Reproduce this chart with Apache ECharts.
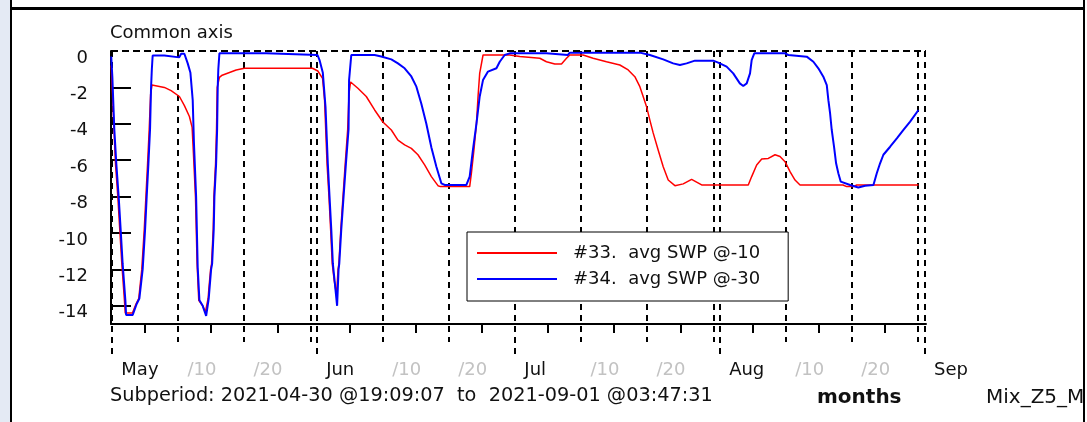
<!DOCTYPE html>
<html>
<head>
<meta charset="utf-8">
<script src="https://cdn.jsdelivr.net/npm/echarts@6/dist/echarts.min.js"></script>
<style>
html, body { margin: 0; padding: 0; background: #fff; }
#chart { width: 1087px; height: 422px; }
</style>
</head>
<body>
<div id="chart"></div>
<script>
// Soil water potential, two sensors, Apr 30 - Sep 1 2021
const periodStart = '2021-04-30 19:09:07';
const periodEnd = '2021-09-01 03:47:31';

const swp10Name = '#33.  avg SWP @-10';
const swp30Name = '#34.  avg SWP @-30';

const swp10Time = [
  '2021-04-30 20:00', '2021-05-01 04:00', '2021-05-01 11:30', '2021-05-01 20:00', '2021-05-02 03:00',
  '2021-05-02 10:30', '2021-05-02 20:00', '2021-05-02 23:00', '2021-05-04 01:00', '2021-05-04 14:00',
  '2021-05-05 00:00', '2021-05-05 11:00', '2021-05-05 20:00', '2021-05-06 02:00', '2021-05-06 08:00',
  '2021-05-06 14:00', '2021-05-06 19:00', '2021-05-07 00:00', '2021-05-08 21:00', '2021-05-09 21:30',
  '2021-05-11 03:40', '2021-05-11 21:50', '2021-05-12 16:00', '2021-05-13 01:50', '2021-05-13 06:30',
  '2021-05-13 14:00', '2021-05-13 20:00', '2021-05-14 02:00', '2021-05-14 16:00', '2021-05-15 02:00',
  '2021-05-15 12:00', '2021-05-15 14:30', '2021-05-15 21:00', '2021-05-16 00:30', '2021-05-16 06:30',
  '2021-05-16 09:00', '2021-05-16 15:00', '2021-05-16 18:30', '2021-05-16 21:00', '2021-05-17 05:00',
  '2021-05-17 15:00', '2021-05-19 17:50', '2021-05-21 00:00', '2021-05-31 07:00', '2021-06-01 02:30',
  '2021-06-01 19:40', '2021-06-02 03:00', '2021-06-02 12:00', '2021-06-02 19:00', '2021-06-03 01:00',
  '2021-06-03 07:00', '2021-06-03 14:00', '2021-06-03 22:30', '2021-06-04 04:00', '2021-06-04 07:00',
  '2021-06-04 14:00', '2021-06-04 22:00', '2021-06-05 06:00', '2021-06-05 15:00', '2021-06-05 20:00',
  '2021-06-06 01:30', '2021-06-07 04:00', '2021-06-08 10:30', '2021-06-09 16:50', '2021-06-10 22:50',
  '2021-06-12 05:30', '2021-06-13 05:30', '2021-06-14 05:50', '2021-06-15 06:10', '2021-06-16 06:10',
  '2021-06-17 06:30', '2021-06-18 07:00', '2021-06-19 07:00', '2021-06-19 16:00', '2021-06-24 02:10',
  '2021-06-24 08:30', '2021-06-24 17:50', '2021-06-25 02:40', '2021-06-25 08:30', '2021-06-25 14:30',
  '2021-06-26 02:40', '2021-06-30 03:40', '2021-07-01 16:00', '2021-07-04 16:50', '2021-07-05 17:00',
  '2021-07-06 23:20', '2021-07-07 23:40', '2021-07-08 17:50', '2021-07-09 05:50', '2021-07-11 06:10',
  '2021-07-12 18:30', '2021-07-14 19:10', '2021-07-16 19:40', '2021-07-18 02:00', '2021-07-19 02:10',
  '2021-07-19 20:20', '2021-07-20 08:20', '2021-07-20 20:40', '2021-07-21 08:40', '2021-07-21 20:40',
  '2021-07-22 14:50', '2021-07-23 09:10', '2021-07-24 03:20', '2021-07-25 03:40', '2021-07-26 09:50',
  '2021-07-27 16:20', '2021-07-28 10:30', '2021-07-29 04:50', '2021-08-05 06:10', '2021-08-05 18:30',
  '2021-08-06 12:40', '2021-08-07 07:00', '2021-08-08 07:00', '2021-08-09 07:20', '2021-08-10 01:30',
  '2021-08-10 19:40', '2021-08-11 13:50', '2021-08-12 08:00', '2021-08-13 02:10', '2021-08-19 14:20',
  '2021-08-20 04:00', '2021-08-21 04:00', '2021-08-21 16:20', '2021-08-31 00:30'
];
const swp10Value = [
  -0.8, -3.6, -6.2, -8.0, -9.8,
  -11.7, -13.7, -14.4, -14.4, -13.9,
  -13.6, -12.0, -9.8, -8.0, -6.2,
  -4.3, -2.4, -1.87, -2.0, -2.18,
  -2.5, -3.0, -3.6, -4.2, -5.6,
  -8.0, -11.7, -13.7, -14.0, -14.35,
  -13.6, -13.1, -12.0, -11.7, -9.8,
  -8.0, -6.2, -4.3, -2.0, -1.45,
  -1.33, -1.04, -0.95, -0.95, -1.1,
  -1.5, -2.7, -6.2, -8.0, -9.8,
  -11.7, -12.6, -13.4, -12.0, -11.7,
  -9.8, -8.0, -6.2, -4.3, -2.3,
  -1.7, -2.05, -2.5, -3.24, -3.9,
  -4.34, -4.9, -5.16, -5.35, -5.7,
  -6.26, -6.9, -7.4, -7.45, -7.45,
  -6.7, -5.4, -4.0, -2.5, -1.23,
  -0.22, -0.22, -0.3, -0.4, -0.59,
  -0.71, -0.71, -0.4, -0.22, -0.22,
  -0.4, -0.59, -0.77, -1.04, -1.41,
  -1.96, -2.5, -3.06, -3.8, -4.5,
  -5.44, -6.36, -7.09, -7.4, -7.3,
  -7.05, -7.2, -7.36, -7.36, -6.9,
  -6.26, -5.93, -5.9, -5.7, -5.8,
  -6.08, -6.63, -7.09, -7.36, -7.36,
  -7.45, -7.45, -7.36, -7.36
];

const swp30Time = [
  '2021-04-30 20:00', '2021-05-01 00:00', '2021-05-01 07:10', '2021-05-01 14:30', '2021-05-01 23:00',
  '2021-05-02 06:10', '2021-05-02 13:30', '2021-05-02 23:20', '2021-05-03 02:00', '2021-05-04 02:00',
  '2021-05-04 16:20', '2021-05-05 02:10', '2021-05-05 14:10', '2021-05-05 23:00', '2021-05-06 04:50',
  '2021-05-06 11:00', '2021-05-06 17:00', '2021-05-06 20:40', '2021-05-06 23:30', '2021-05-07 02:30',
  '2021-05-08 21:00', '2021-05-09 00:00', '2021-05-11 03:00', '2021-05-11 10:00', '2021-05-11 21:40',
  '2021-05-12 09:50', '2021-05-12 19:40', '2021-05-13 04:00', '2021-05-13 08:20', '2021-05-13 16:20',
  '2021-05-13 22:10', '2021-05-14 04:20', '2021-05-14 16:20', '2021-05-15 04:50', '2021-05-15 14:10',
  '2021-05-15 16:50', '2021-05-15 22:50', '2021-05-16 02:30', '2021-05-16 08:20', '2021-05-16 10:50',
  '2021-05-16 17:00', '2021-05-16 20:40', '2021-05-16 22:50', '2021-05-17 01:00', '2021-05-17 05:00',
  '2021-05-24 07:00', '2021-05-24 10:00', '2021-06-01 01:30', '2021-06-01 08:40', '2021-06-01 20:40',
  '2021-06-02 06:30', '2021-06-02 14:50', '2021-06-02 21:00', '2021-06-03 03:20', '2021-06-03 09:10',
  '2021-06-03 15:20', '2021-06-04 00:30', '2021-06-04 05:50', '2021-06-04 08:20', '2021-06-04 15:40',
  '2021-06-05 00:00', '2021-06-05 08:30', '2021-06-05 18:10', '2021-06-05 20:00', '2021-06-06 04:00',
  '2021-06-09 16:50', '2021-06-10 17:00', '2021-06-12 05:30', '2021-06-13 05:30', '2021-06-14 05:50',
  '2021-06-15 06:10', '2021-06-16 00:30', '2021-06-16 18:30', '2021-06-17 12:40', '2021-06-18 07:00',
  '2021-06-19 01:10', '2021-06-19 19:10', '2021-06-20 07:20', '2021-06-23 14:10', '2021-06-24 02:10',
  '2021-06-24 14:10', '2021-06-25 02:40', '2021-06-25 14:30', '2021-06-26 02:30', '2021-06-26 20:40',
  '2021-06-28 03:20', '2021-06-28 15:20', '2021-06-29 09:20', '2021-06-30 03:40', '2021-07-05 17:00',
  '2021-07-05 20:00', '2021-07-08 22:30', '2021-07-09 05:50', '2021-07-19 20:20', '2021-07-21 08:40',
  '2021-07-23 09:10', '2021-07-24 21:20', '2021-07-25 21:50', '2021-07-26 22:10', '2021-07-28 04:20',
  '2021-07-30 22:50', '2021-07-31 17:00', '2021-08-01 23:30', '2021-08-02 23:30', '2021-08-03 23:30',
  '2021-08-04 12:00', '2021-08-05 00:30', '2021-08-05 12:30', '2021-08-05 18:30', '2021-08-06 04:00',
  '2021-08-10 19:40', '2021-08-11 07:40', '2021-08-14 02:30', '2021-08-15 02:40', '2021-08-15 20:40',
  '2021-08-16 14:50', '2021-08-17 03:20', '2021-08-17 09:10', '2021-08-17 15:20', '2021-08-17 21:20',
  '2021-08-18 05:40', '2021-08-18 13:10', '2021-08-18 21:20', '2021-08-19 06:10', '2021-08-20 16:00',
  '2021-08-21 22:00', '2021-08-22 22:30', '2021-08-24 04:50', '2021-08-24 17:00', '2021-08-25 05:00',
  '2021-08-25 17:00', '2021-08-26 17:30', '2021-08-27 17:50', '2021-08-28 17:50', '2021-08-29 18:10',
  '2021-08-31 00:30'
];
const swp30Value = [
  -0.3, -1.4, -4.3, -6.2, -8.0,
  -9.8, -11.7, -13.7, -14.5, -14.5,
  -13.9, -13.6, -12.0, -9.8, -8.0,
  -6.2, -4.3, -2.0, -1.0, -0.25,
  -0.25, -0.35, -0.35, -0.15, -0.15,
  -0.68, -1.2, -2.7, -5.0, -8.0,
  -11.9, -13.7, -14.0, -14.55, -13.6,
  -13.1, -12.0, -11.7, -9.8, -8.0,
  -6.2, -4.3, -2.0, -1.0, -0.13,
  -0.13, -0.22, -0.22, -0.5, -1.2,
  -3.1, -6.2, -8.0, -9.8, -11.7,
  -12.6, -14.0, -12.0, -11.7, -9.8,
  -8.0, -6.2, -4.3, -1.6, -0.22,
  -0.22, -0.3, -0.46, -0.68, -0.95,
  -1.4, -1.96, -2.9, -4.0, -5.3,
  -6.36, -7.27, -7.36, -7.36, -6.9,
  -5.4, -4.0, -2.5, -1.6, -1.13,
  -0.95, -0.59, -0.22, -0.13, -0.13,
  -0.22, -0.22, -0.09, -0.09, -0.22,
  -0.46, -0.68, -0.77, -0.68, -0.53,
  -0.53, -0.64, -0.86, -1.23, -1.78,
  -1.92, -1.78, -1.23, -0.5, -0.13,
  -0.13, -0.22, -0.31, -0.59, -0.95,
  -1.41, -1.87, -2.7, -3.42, -4.34,
  -5.26, -6.17, -6.72, -7.18, -7.36,
  -7.5, -7.4, -7.36, -6.72, -6.17,
  -5.7, -5.26, -4.8, -4.34, -3.88,
  -3.24
];

// axis ticks and labels
const yTickValues = [-2, -4, -6, -8, -10, -12, -14];
const yLabelValues = [0, -2, -4, -6, -8, -10, -12, -14];
const monthLines = ['2021-05-01', '2021-06-01', '2021-07-01', '2021-08-01', '2021-09-01'];
const decadeLines = ['2021-05-11', '2021-05-21', '2021-05-31', '2021-06-11', '2021-06-21',
  '2021-07-11', '2021-07-21', '2021-07-31', '2021-08-11', '2021-08-21', '2021-08-31'];
const pentadTicks = ['2021-05-06', '2021-05-16', '2021-05-26', '2021-06-06', '2021-06-16', '2021-06-26',
  '2021-07-06', '2021-07-16', '2021-07-26', '2021-08-06', '2021-08-16', '2021-08-26'];
const xLabelDates = ['2021-05-01', '2021-05-11', '2021-05-21', '2021-06-01', '2021-06-11', '2021-06-21',
  '2021-07-01', '2021-07-11', '2021-07-21', '2021-08-01', '2021-08-11', '2021-08-21', '2021-09-01'];
const xLabelTexts = ['May', '/10', '/20', 'Jun', '/10', '/20', 'Jul', '/10', '/20', 'Aug', '/10', '/20', 'Sep'];

function toTime(s) {
  const m = s.match(/(\d+)-(\d+)-(\d+)(?:\s+(\d+):(\d+)(?::(\d+))?)?/);
  return new Date(+m[1], +m[2] - 1, +m[3], +(m[4] || 0), +(m[5] || 0), +(m[6] || 0)).getTime();
}
function pairs(times, values) {
  return times.map((t, i) => [toTime(t), values[i]]);
}

const FONT = '"DejaVu Sans", Verdana, sans-serif';
const INK = '#111';

const labelText = {};
xLabelDates.forEach((d, i) => { labelText[toTime(d)] = xLabelTexts[i]; });

// vertical grid lines and lower ticks: kind 0 = month, 1 = ten days, 2 = five days
const gridData = [].concat(
  monthLines.map(d => [toTime(d), 0, 0]),
  decadeLines.map(d => [toTime(d), 0, 1]),
  pentadTicks.map(d => [toTime(d), 0, 2])
);

function renderGrid(params, api) {
  const t = api.value(0);
  const kind = api.value(2);
  const top = api.coord([t, 0]);
  const bottom = api.coord([t, -15]);
  const x = Math.round(top[0]);
  if (kind === 2) {
    return { type: 'line', shape: { x1: x, y1: bottom[1], x2: x, y2: bottom[1] + 9 },
      style: { stroke: '#000', lineWidth: 2 } };
  }
  return { type: 'line',
    shape: { x1: x, y1: top[1], x2: x, y2: bottom[1] + (kind === 0 ? 30 : 18) },
    style: { stroke: '#000', lineWidth: 2, lineDash: [6, 5] } };
}

const chart = echarts.init(document.getElementById('chart'), null, { renderer: 'canvas' });
chart.setOption({
  animation: false,
  backgroundColor: '#fff',
  grid: { left: 111, top: 51, width: 815, height: 273, containLabel: false, outerBoundsMode: 'none' },
  xAxis: {
    type: 'value',
    min: toTime(periodStart),
    max: toTime(periodEnd),
    scale: true,
    axisLine: { show: true, onZero: false, lineStyle: { color: '#000', width: 2 } },
    axisTick: { show: false },
    splitLine: { show: false },
    minorTick: { show: false },
    axisLabel: {
      customValues: xLabelDates.map(toTime),
      formatter: v => labelText[Number(v)] || '',
      color: v => ((labelText[Number(v)] || '').charAt(0) === '/' ? '#c2c2c2' : INK),
      fontFamily: FONT,
      fontSize: 18,
      align: 'left',
      verticalAlign: 'middle',
      padding: [0, 0, 0, 9],
      margin: 46
    }
  },
  yAxis: {
    type: 'value',
    min: -15,
    max: 0,
    axisLine: { show: true, onZero: false, lineStyle: { color: '#000', width: 2 } },
    axisTick: { show: true, inside: true, length: 20, customValues: yTickValues,
      lineStyle: { color: '#000', width: 2 } },
    splitLine: { show: false },
    axisLabel: {
      customValues: yLabelValues,
      fontFamily: FONT,
      fontSize: 18,
      color: INK,
      margin: 23,
      verticalAlign: 'top',
      lineHeight: 14
    }
  },
  legend: {
    data: [swp10Name, swp30Name],
    orient: 'vertical',
    left: 467,
    top: 232,
    padding: [11, 28, 12, 10],
    itemWidth: 80,
    itemHeight: 2,
    itemGap: 6,
    icon: 'rect',
    selectedMode: false,
    backgroundColor: '#fff',
    borderColor: '#000',
    borderWidth: 1,
    borderRadius: 0,
    textStyle: { fontFamily: FONT, fontSize: 18, color: INK, lineHeight: 20, padding: [0, 0, 0, 11] }
  },
  series: [
    {
      type: 'custom',
      renderItem: renderGrid,
      data: gridData,
      silent: true,
      clip: false,
      z: 1,
      markLine: {
        silent: true,
        symbol: 'none',
        label: { show: false },
        lineStyle: { color: '#000', width: 2, type: [7, 4] },
        data: [{ yAxis: 0 }]
      }
    },
    {
      type: 'line',
      name: swp10Name,
      data: pairs(swp10Time, swp10Value),
      color: '#ff0000',
      showSymbol: false,
      symbol: 'none',
      lineStyle: { color: '#ff0000', width: 1.5 },
      z: 3
    },
    {
      type: 'line',
      name: swp30Name,
      data: pairs(swp30Time, swp30Value),
      color: '#0000ff',
      showSymbol: false,
      symbol: 'none',
      lineStyle: { color: '#0000ff', width: 2 },
      z: 4
    }
  ],
  graphic: [
    { type: 'text', x: 110, y: 33, style: { text: 'Common axis', font: '18px ' + FONT, fill: INK, align: 'left', verticalAlign: 'middle' } },
    { type: 'text', x: 110, y: 396, style: { text: 'Subperiod: 2021-04-30 @19:09:07  to  2021-09-01 @03:47:31', font: '19.3px ' + FONT, fill: INK, align: 'left', verticalAlign: 'middle' } },
    { type: 'text', x: 817, y: 398, style: { text: 'months', font: 'bold 20px ' + FONT, fill: INK, align: 'left', verticalAlign: 'middle' } },
    { type: 'text', x: 986, y: 398, style: { text: 'Mix_Z5_M', font: '20px ' + FONT, fill: INK, align: 'left', verticalAlign: 'middle' } },
    { type: 'rect', shape: { x: 0, y: 0, width: 10, height: 422 }, style: { fill: '#e4eaf4' } },
    { type: 'rect', shape: { x: 10, y: 0, width: 2, height: 422 }, style: { fill: '#000' } },
    { type: 'rect', shape: { x: 10, y: 7, width: 1075, height: 3 }, style: { fill: '#000' } },
    { type: 'rect', shape: { x: 1085, y: 0, width: 2, height: 422 }, style: { fill: '#fff' } },
    { type: 'rect', shape: { x: 1083, y: 0, width: 2, height: 422 }, style: { fill: '#000' } }
  ]
});
</script>
</body>
</html>
